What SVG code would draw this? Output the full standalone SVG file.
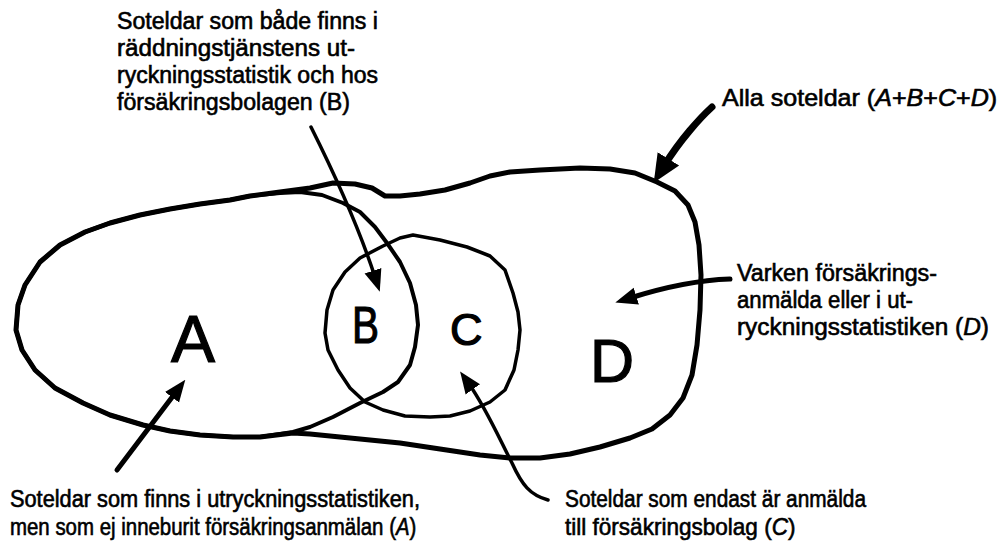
<svg xmlns="http://www.w3.org/2000/svg" width="1004" height="545" viewBox="0 0 1004 545">
<style>
.t{font-family:"Liberation Sans",Arial,sans-serif;font-size:23px;fill:#000;stroke:#000;stroke-width:0.6}
.i{font-style:italic}
.sh{fill:none;stroke:#000;stroke-linejoin:round;stroke-linecap:round}
.ar{fill:none;stroke:#000;stroke-linecap:round;stroke-linejoin:round}
.big{font-family:"Liberation Sans",Arial,sans-serif;fill:#000;stroke:#000;stroke-width:1.2}
</style>
<defs>
<marker id="ah" viewBox="0 0 10 10" refX="3" refY="5" markerWidth="22" markerHeight="22" markerUnits="userSpaceOnUse" orient="auto">
<path d="M0,1 L10,5 L0,9 Z" fill="#000"/>
</marker>
<marker id="ahL" viewBox="0 0 10 10" refX="3" refY="5" markerWidth="28" markerHeight="28" markerUnits="userSpaceOnUse" orient="auto">
<path d="M0,0.5 L10,5 L0,9.5 Z" fill="#000"/>
</marker>
</defs>
<rect width="1004" height="545" fill="#fff"/>

<g id="set-all">
<path class="sh" stroke-width="5" d="M250,196 L280,192 L310,188 L333,183 L355,184 L372,188 L385,196 L400,196 L420,194 L445,190 L470,183 L490,176 L510,172 L540,170 L580,168 L610,169 L635,173 L657,182 L675,191 L688,205 L695,222 L699,245 L701,275 L700,310 L697,345 L692,375 L683,398 L670,415 L652,429 L630,438 L600,447 L570,454 L540,458 L510,458 L480,455 L440,449 L400,443 L350,438 L310,434 L293,433 L260,437 L233,437 L200,435 L170,431 L143,425 L110,415 L83,403 L55,388 L35,370 L22,350 L16,330 L18,305 L25,285 L40,262 L60,245 L85,232 L110,223 L140,215 L170,209 L200,204 L230,200 Z"/>
</g>

<g id="set-A">
<path class="sh" stroke-width="4" d="M250,196 L280,193 L300,192 L322,195 L343,203 L360,212 L375,227 L387,243 L400,262 L410,283 L416,305 L418,325 L415,347 L410,365 L398,382 L383,392 L360,403 L333,417 L310,427 L293,432 L260,437 L233,437 L200,435 L170,431 L143,425 L110,415 L83,403 L55,388 L35,370 L22,350 L16,330 L18,305 L25,285 L40,262 L60,245 L85,232 L110,223 L140,215 L170,209 L200,204 L230,200 Z"/>
<text class="big" x="171" y="362" font-size="66">A</text>
</g>

<g id="set-C">
<path class="sh" stroke-width="3.5" d="M413,235 L440,240 L467,247 L490,256 L505,270 L513,293 L518,312 L520,330 L518,350 L514,370 L505,390 L490,402 L470,411 L450,416 L430,417 L405,416 L383,410 L365,402 L350,388 L338,370 L328,350 L325,333 L327,310 L333,290 L345,272 L360,258 L383,246 L400,238 Z"/>
<text class="big" x="450" y="345" font-size="45">C</text>
</g>

<g id="region-B">
<text class="big" x="352" y="343" font-size="52" textLength="27" lengthAdjust="spacingAndGlyphs">B</text>
</g>

<g id="region-D">
<text class="big" x="590" y="382" font-size="61">D</text>
</g>

<g id="connectors">
<path class="ar" stroke-width="7" d="M712,107 C700,118 680,140 664,166" marker-end="url(#ahL)"/>
<path class="ar" stroke-width="5" d="M730,279 C700,280 665,287 630,298" marker-end="url(#ah)"/>
<path class="ar" stroke-width="3.5" d="M311,127 C335,175 358,225 375,277" marker-end="url(#ah)"/>
<path class="ar" stroke-width="5" d="M117,470 L176,392" marker-end="url(#ah)"/>
<path class="ar" stroke-width="3.5" d="M548,500 C530,495 522,485 512,463 C500,440 486,408 469,384" marker-end="url(#ah)"/>
</g>

<g id="label-B">
<text class="t" x="117" y="29" textLength="261" lengthAdjust="spacingAndGlyphs">Soteldar som både finns i</text>
<text class="t" x="117" y="56" textLength="238" lengthAdjust="spacingAndGlyphs">räddningstjänstens ut-</text>
<text class="t" x="117" y="83" textLength="261" lengthAdjust="spacingAndGlyphs">ryckningsstatistik och hos</text>
<text class="t" x="117" y="110" textLength="233" lengthAdjust="spacingAndGlyphs">försäkringsbolagen (B)</text>
</g>

<g id="label-all">
<text class="t" transform="translate(722,106) scale(1.09,1)">Alla soteldar (<tspan class="i">A</tspan>+<tspan class="i">B</tspan>+<tspan class="i">C</tspan>+<tspan class="i">D</tspan>)</text>
</g>

<g id="label-D">
<text class="t" x="737" y="281" textLength="200" lengthAdjust="spacingAndGlyphs">Varken försäkrings-</text>
<text class="t" x="737" y="308" textLength="176" lengthAdjust="spacingAndGlyphs">anmälda eller i ut-</text>
<text class="t" transform="translate(737,335) scale(1.06,1)">ryckningsstatistiken (<tspan class="i">D</tspan>)</text>
</g>

<g id="label-A">
<text class="t" x="10" y="507" textLength="410" lengthAdjust="spacingAndGlyphs">Soteldar som finns i utryckningsstatistiken,</text>
<text class="t" transform="translate(10,535) scale(0.888,1)">men som ej inneburit försäkringsanmälan (<tspan class="i">A</tspan>)</text>
</g>

<g id="label-C">
<text class="t" x="565" y="507" textLength="301" lengthAdjust="spacingAndGlyphs">Soteldar som endast är anmälda</text>
<text class="t" transform="translate(565,535) scale(0.98,1)">till försäkringsbolag (<tspan class="i">C</tspan>)</text>
</g>
</svg>
